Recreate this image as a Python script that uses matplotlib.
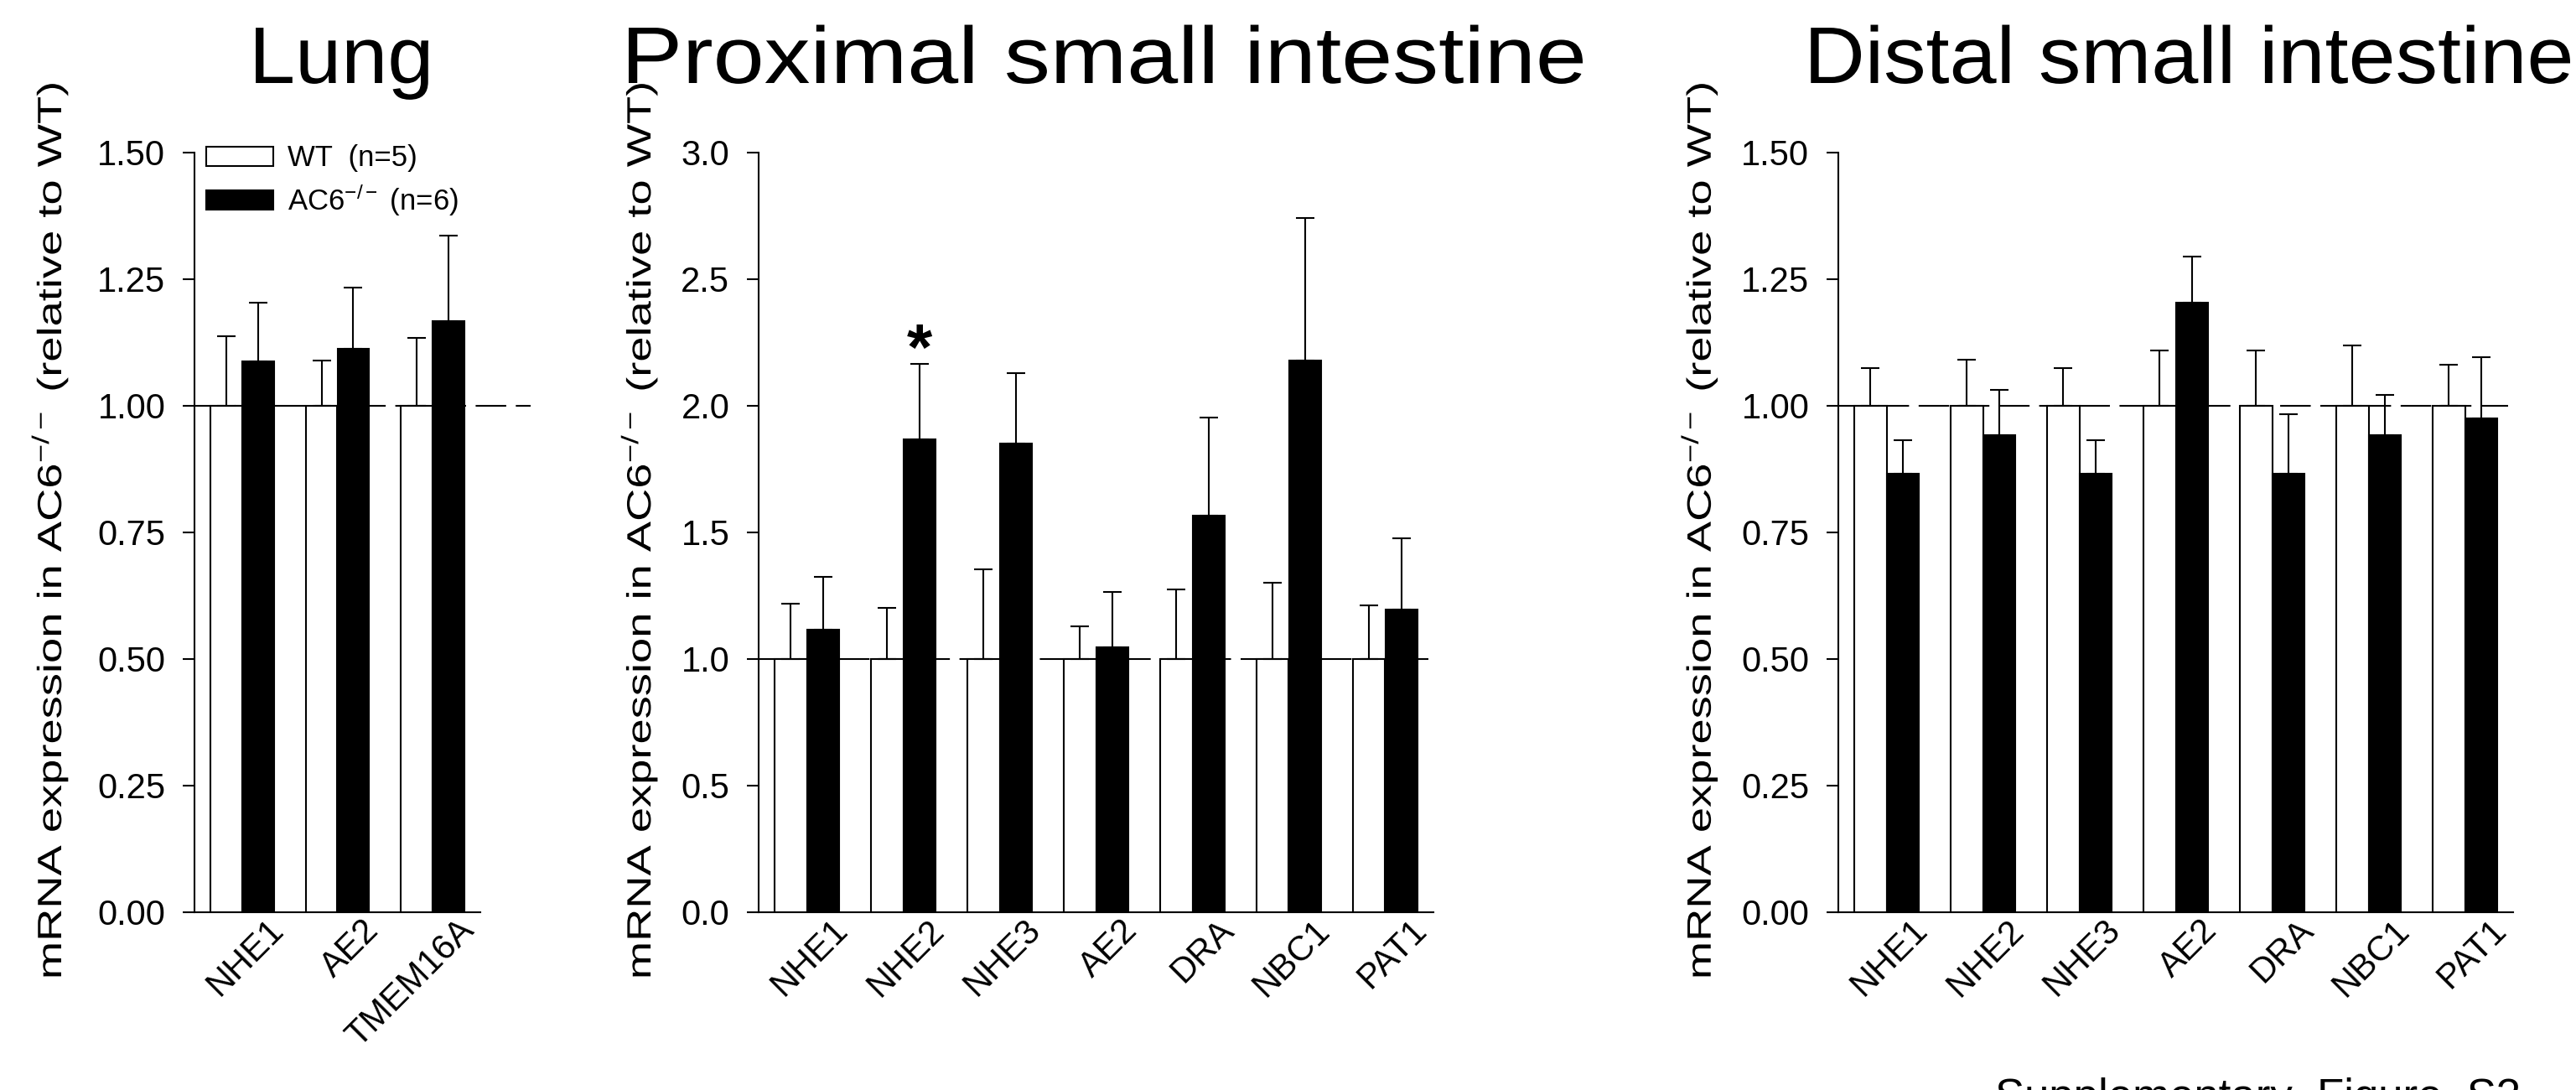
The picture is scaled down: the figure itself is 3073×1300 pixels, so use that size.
import numpy as np
import matplotlib
matplotlib.use('Agg')
import matplotlib.pyplot as plt
from matplotlib.patheffects import AbstractPathEffect
from matplotlib.transforms import Affine2D, ScaledTranslation

plt.rcParams['font.family'] = ['Liberation Sans', 'DejaVu Sans']
plt.rcParams['mathtext.fontset'] = 'custom'
plt.rcParams['mathtext.rm'] = 'Liberation Sans'
plt.rcParams['mathtext.it'] = 'Liberation Sans:italic'
plt.rcParams['mathtext.bf'] = 'Liberation Sans:bold'

# data (mean, upper SEM)
lung_genes = ['NHE1', 'AE2', 'TMEM16A']
lung_wt = [1.0, 1.0, 1.0]
lung_wt_err = [0.137, 0.088, 0.133]
lung_ko = [1.087, 1.111, 1.166]
lung_ko_err = [0.116, 0.121, 0.169]

prox_genes = ['NHE1', 'NHE2', 'NHE3', 'AE2', 'DRA', 'NBC1', 'PAT1']
prox_wt = [1.0, 1.0, 1.0, 1.0, 1.0, 1.0, 1.0]
prox_wt_err = [0.217, 0.200, 0.352, 0.129, 0.272, 0.299, 0.209]
prox_ko = [1.115, 1.865, 1.849, 1.044, 1.566, 2.176, 1.195]
prox_ko_err = [0.209, 0.300, 0.280, 0.220, 0.385, 0.563, 0.280]

dist_genes = ['NHE1', 'NHE2', 'NHE3', 'AE2', 'DRA', 'NBC1', 'PAT1']
dist_wt = [1.0, 1.0, 1.0, 1.0, 1.0, 1.0, 1.0]
dist_wt_err = [0.074, 0.091, 0.074, 0.108, 0.108, 0.118, 0.080]
dist_ko = [0.865, 0.941, 0.865, 1.203, 0.865, 0.941, 0.975]
dist_ko_err = [0.066, 0.089, 0.066, 0.091, 0.117, 0.079, 0.121]

ticks_150 = [0.0, 0.25, 0.50, 0.75, 1.00, 1.25, 1.50]
ticks_30 = [0.0, 0.5, 1.0, 1.5, 2.0, 2.5, 3.0]

titles = ['Lung', 'Proximal small intestine', 'Distal small intestine']
ylab = 'mRNA expression in AC6$^{-/-}$ (relative to WT)'
legend_labels = ['WT  (n=5)', 'AC6$^{-/-}$ (n=6)']


class StretchText(AbstractPathEffect):
    # the original texts are stretched along their baseline
    def __init__(self, length_px):
        super().__init__()
        self.length_px = length_px

    def draw_path(self, renderer, gc, tpath, affine, rgbFace=None):
        ext = tpath.get_extents()
        p0 = affine.transform([0, 0])
        p1 = affine.transform([1, 0])
        unit = np.hypot(*(p1 - p0))
        sx = self.length_px / (ext.x1 * unit)
        renderer.draw_path(gc, tpath, Affine2D().scale(sx, 1) + affine, rgbFace)


W, H = 3073, 1300
fig = plt.figure(figsize=(W / 100, H / 100), dpi=100)


def px_axes(left, right, top, bottom):
    return fig.add_axes([left / W, 1 - bottom / H, (right - left) / W, (bottom - top) / H])


def panel(ax, genes, wt, wt_err, ko, ko_err, yticks, fmt, line_end, lab_x, lab_y):
    x = np.arange(len(genes))
    bw = 1 / 3
    zeros = np.zeros(len(x))
    b1 = ax.bar(x - bw / 2, wt, bw, color='white', edgecolor='black', linewidth=1.5, zorder=2)
    ax.errorbar(x - bw / 2, wt, yerr=[zeros, wt_err], fmt='none', ecolor='black',
                elinewidth=1.5, capsize=8, capthick=1.5, zorder=3)
    b2 = ax.bar(x + bw / 2, ko, bw, color='black', edgecolor='black', linewidth=1.5, zorder=2)
    ax.errorbar(x + bw / 2, ko, yerr=[zeros, ko_err], fmt='none', ecolor='black',
                elinewidth=1.5, capsize=8, capthick=1.5, zorder=3)
    ax.plot([-0.5, line_end], [1, 1], color='black', lw=1.5, ls=(0, (17.5, 5.5)),
            zorder=1, clip_on=False)
    ax.set_xlim(-0.5, len(genes) - 0.5)
    ax.set_ylim(yticks[0], yticks[-1])
    ax.set_yticks(yticks)
    ax.set_yticklabels([fmt % t for t in yticks])
    ax.set_xticks(x)
    ax.set_xticklabels(genes, rotation=45, ha='right', va='top', rotation_mode='anchor')
    for s in ['top', 'right']:
        ax.spines[s].set_visible(False)
    for s in ['left', 'bottom']:
        ax.spines[s].set_linewidth(1.5)
    ax.tick_params(axis='y', direction='out', length=10, width=1.5, pad=15, labelsize=30)
    ax.tick_params(axis='x', length=0, pad=12, labelsize=30)
    off = ScaledTranslation(0.29, 0.15, fig.dpi_scale_trans)
    for lab in ax.get_xticklabels():
        lab.set_transform(lab.get_transform() + off)
    ax.set_ylabel(ylab, fontsize=29, rotation=90, rotation_mode='anchor', ha='left',
                  va='baseline', path_effects=[StretchText(1068)])
    ax.yaxis.set_label_coords(lab_x, lab_y)
    return b1, b2


ax_lung = px_axes(232, 573, 181.5, 1087.5)
ax_prox = px_axes(905, 1710, 181.5, 1087.5)
ax_dist = px_axes(2193, 2998, 181.5, 1087.5)

h1, h2 = panel(ax_lung, lung_genes, lung_wt, lung_wt_err, lung_ko, lung_ko_err,
               ticks_150, '%.2f', 3.03, -0.466, -0.089)
panel(ax_prox, prox_genes, prox_wt, prox_wt_err, prox_ko, prox_ko_err,
      ticks_30, '%.1f', 6.45, -0.160, -0.089)
panel(ax_dist, dist_genes, dist_wt, dist_wt_err, dist_ko, dist_ko_err,
      ticks_150, '%.2f', 6.45, -0.189, -0.089)

ax_lung.legend([h1, h2], legend_labels, loc='upper left', bbox_to_anchor=(0.04, 1.01),
               frameon=False, fontsize=25, handlelength=2.3, handleheight=0.65,
               handletextpad=0.5, labelspacing=0.35, borderpad=0, borderaxespad=0)

# significance mark over NHE2 (AC6-/-)
ax_prox.text(1 + 1 / 6, 2.14, '*', ha='center', va='baseline', fontsize=56, fontweight='bold')

# panel titles: left edge and width in pixels
title_left = [297, 741, 2152]
title_width = [214, 1147, 914]
for t, l, w in zip(titles, title_left, title_width):
    fig.text(l / W, 1 - 99 / H, t, ha='left', va='baseline', fontsize=69,
             path_effects=[StretchText(w)])

fig.text(2380 / W, 1 - 1324 / H, 'Supplementary  Figure  S3', ha='left', va='baseline', fontsize=38)

fig.savefig('out.png', dpi=100)
